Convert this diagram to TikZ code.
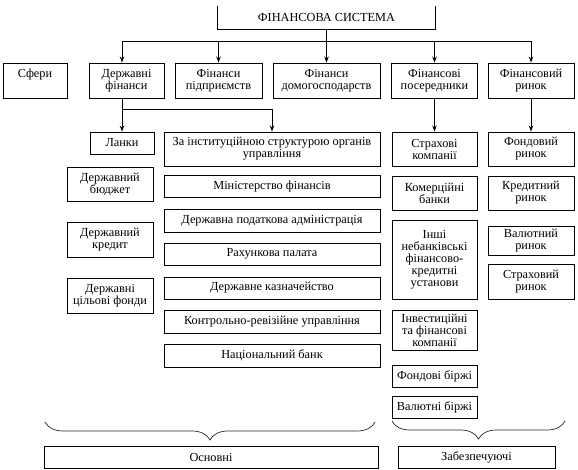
\documentclass[tikz,border=0pt]{standalone}
\usepackage{fontspec}
\setmainfont{Liberation Serif}
\newfontfamily\tnr{Liberation Serif}
\usetikzlibrary{arrows.meta,decorations.pathreplacing}
\tikzset{
  bx/.style={draw, line width=0.9pt, inner sep=0pt, align=center,
    font={\tnr\fontsize{12.3}{12}\selectfont}},
  arr/.style={line width=0.9pt, -{Stealth[length=6pt,width=4.5pt,inset=2pt]}},
  ln/.style={line width=0.9pt},
  brc/.style={decorate, decoration={brace, mirror, amplitude=18pt}, line width=0.7pt, black!85}
}
\begin{document}
\begin{tikzpicture}[x=1pt,y=-1pt]
\useasboundingbox (0,0) rectangle (578,470);
% title
\node[inner sep=0pt, minimum width=217, minimum height=23, font={\tnr\fontsize{12.3}{12}\selectfont}] (sys) at (326.5,17.5) {ФІНАНСОВА СИСТЕМА};
\draw[ln] (sys.north west) -- (sys.south west) -- (sys.south east) -- (sys.north east);
% row 2
\node[bx, minimum width=64, minimum height=35] (sf) at (35,80.5) {Сфери\\[2pt]~};
\node[bx, minimum width=75, minimum height=35] (df) at (126.5,80.5) {Державні\\фінанси};
\node[bx, minimum width=87, minimum height=35] (fp) at (218.5,80.5) {Фінанси\\підприємств};
\node[bx, minimum width=107, minimum height=35] (fd) at (326.5,80.5) {Фінанси\\домогосподарств};
\node[bx, minimum width=86, minimum height=35] (fpos) at (434.5,80.5) {Фінансові\\посередники};
\node[bx, minimum width=86, minimum height=35] (fr) at (531,80.5) {Фінансовий\\ринок};
% left column
\node[bx, minimum width=64, minimum height=22] (lanky) at (122,143) {Ланки};
\node[bx, minimum width=86, minimum height=34] (db) at (110,184) {Державний\\бюджет};
\node[bx, minimum width=86, minimum height=35] (dk) at (110,239.5) {Державний\\кредит};
\node[bx, minimum width=86, minimum height=35] (dcf) at (110,295.5) {Державні\\цільові фонди};
% middle column
\node[bx, minimum width=216, minimum height=34] (inst) at (272,149) {За інституційною структурою органів\\управління};
\node[bx, minimum width=216, minimum height=22] (minfin) at (272,186.5) {Міністерство фінансів};
\node[bx, minimum width=216, minimum height=23] (dpa) at (272,220.5) {Державна податкова адміністрація};
\node[bx, minimum width=216, minimum height=22] (rp) at (272,254) {Рахункова палата};
\node[bx, minimum width=216, minimum height=22] (dkaz) at (272,288) {Державне казначейство};
\node[bx, minimum width=216, minimum height=23] (kru) at (272,321.5) {Контрольно-ревізійне управління};
\node[bx, minimum width=216, minimum height=23] (nb) at (272,355.5) {Національний банк};
% right column A
\node[bx, minimum width=85, minimum height=34] (sk) at (434.5,149) {Страхові\\компанії};
\node[bx, minimum width=85, minimum height=34] (kb) at (434.5,193) {Комерційні\\банки};
\node[bx, minimum width=85, minimum height=79] (inshi) at (434.5,259.5) {Інші\\небанківські\\фінансово-\\кредитні\\установи};
\node[bx, minimum width=85, minimum height=40] (inv) at (434.5,330) {Інвестиційні\\та фінансові\\компанії};
\node[bx, minimum width=85, minimum height=22] (fb) at (434.5,376) {Фондові біржі};
\node[bx, minimum width=85, minimum height=22] (vb) at (434.5,407) {Валютні біржі};
% right column B
\node[bx, minimum width=86, minimum height=34] (fondr) at (531,149) {Фондовий\\ринок};
\node[bx, minimum width=86, minimum height=34] (kredr) at (531,193) {Кредитний\\ринок};
\node[bx, minimum width=86, minimum height=29] (valr) at (531,240.5) {Валютний\\ринок};
\node[bx, minimum width=86, minimum height=35] (strr) at (531,281.5) {Страховий\\ринок};
% bottom
\node[bx, minimum width=334, minimum height=22] (osn) at (211,457) {Основні};
\node[bx, minimum width=157, minimum height=22] (zab) at (476.5,457) {Забезпечуючі};
\coordinate (brL1) at (45,422);
\coordinate (brR1) at (375,422);
\coordinate (brL2) at (392,421);
\coordinate (brR2) at (565,421);
\draw[brc] (brL1) -- (brR1);
\draw[brc] (brL2) -- (brR2);
% connectors
\coordinate (b1) at (326.5,41);
\coordinate (b1l) at (122,41);
\coordinate (b1r) at (531,41);
\draw[ln] (sys.south) -- (b1);
\draw[ln] (b1l) -- (b1r);
\draw[arr] (b1l) -- (b1l |- df.north);
\draw[arr] (b1 -| fp.north) -- (fp.north);
\draw[arr] (b1) -- (fd.north);
\draw[arr] (b1 -| fpos.north) -- (fpos.north);
\draw[arr] (b1r) -- (fr.north);
\coordinate (b2l) at (122,109);
\coordinate (b2r) at (272,109);
\draw[ln] (b2l |- df.south) -- (b2l) -- (b2r);
\draw[arr] (b2l) -- (lanky.north);
\draw[arr] (b2r) -- (inst.north);
\draw[arr] (fpos.south) -- (sk.north);
\draw[arr] (fr.south) -- (fondr.north);
\end{tikzpicture}
\end{document}
